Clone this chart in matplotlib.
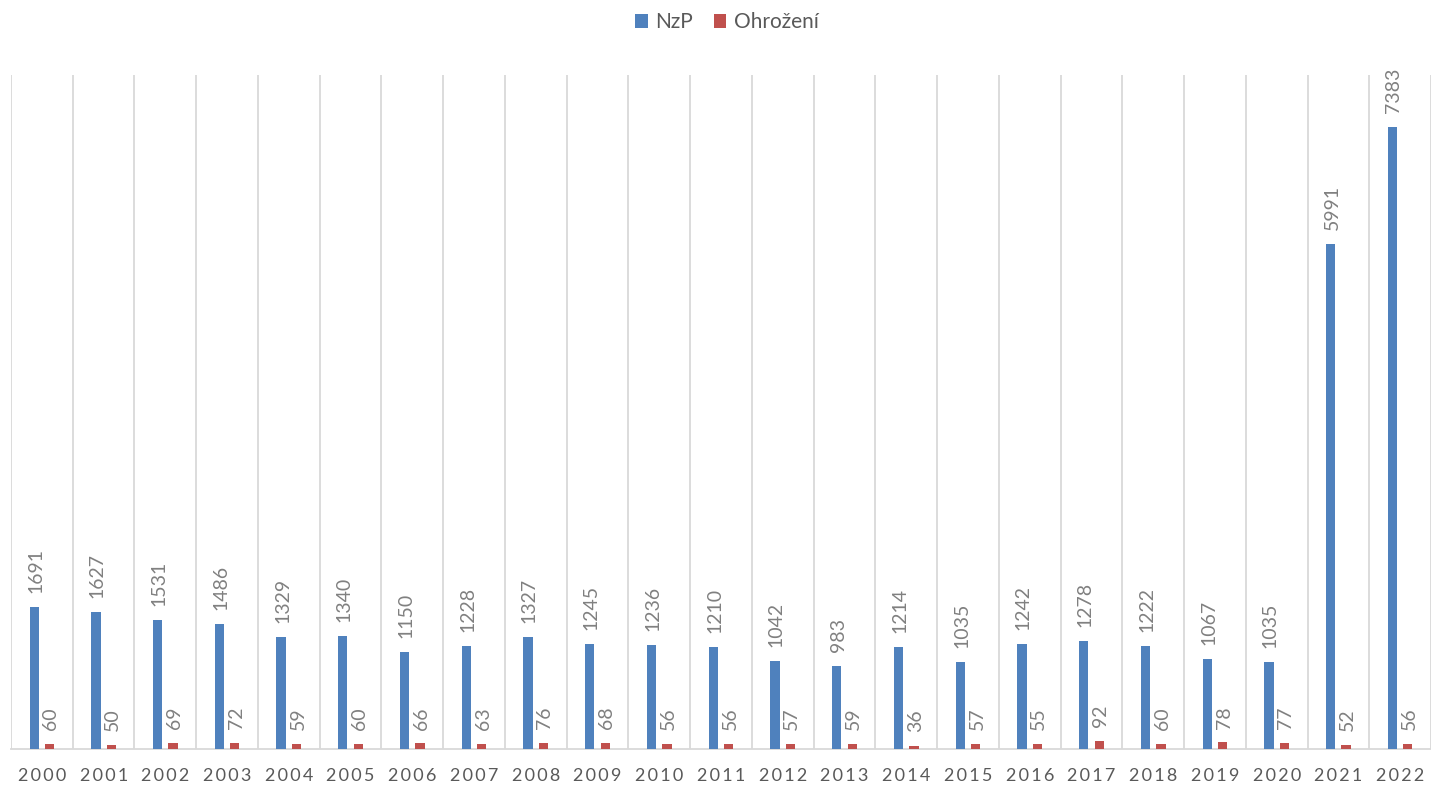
import numpy as np
import matplotlib.pyplot as plt

plt.rcParams['font.family'] = ['Lato', 'DejaVu Sans']

years = [str(y) for y in range(2000, 2023)]
nzp = [1691, 1627, 1531, 1486, 1329, 1340, 1150, 1228, 1327, 1245, 1236, 1210,
       1042, 983, 1214, 1035, 1242, 1278, 1222, 1067, 1035, 5991, 7383]
ohrozeni = [60, 50, 69, 72, 59, 60, 66, 63, 76, 68, 56, 56,
            57, 59, 36, 57, 55, 92, 60, 78, 77, 52, 56]

blue = '#4F81BD'
red = '#C0504D'
grey_txt = '#808080'

fig = plt.figure(figsize=(14.31, 7.87), dpi=100)
ax = fig.add_axes([0.0077, 0.0483, 0.9923, 0.8564])

x = np.arange(len(years))
w = 0.15
b1 = ax.bar(x - 0.125, nzp, w, color=blue, label='NzP', zorder=3)
b2 = ax.bar(x + 0.125, ohrozeni, w, color=red, label='Ohrožení', zorder=3)

for bars, vals in ((b1, nzp), (b2, ohrozeni)):
    for r, v in zip(bars, vals):
        ax.annotate(str(v), (r.get_x() + r.get_width() / 2, r.get_height()),
                    xytext=(1, 10), textcoords='offset points', rotation=90,
                    ha='center', va='bottom', fontsize=14, color=grey_txt)

ax.set_xlim(-0.5, len(years) - 0.5)
ax.set_ylim(0, 8000)
for b in np.arange(-0.5, len(years), 1.0):
    ax.axvline(b, color='#d9d9d9', lw=1.3, zorder=1)

ax.set_yticks([])
ax.set_xticks(x)
ax.set_xticklabels(['\u2009'.join(y) for y in years], fontsize=13, color='#595959')
ax.tick_params(axis='x', length=0, pad=14)
for s in ['top', 'left', 'right']:
    ax.spines[s].set_visible(False)
ax.spines['bottom'].set_color('#d9d9d9')
ax.spines['bottom'].set_linewidth(1.3)

fig.legend(handles=[b1, b2], loc='upper center', bbox_to_anchor=(0.508, 1.008),
           ncol=2, frameon=False, fontsize=15, labelcolor='#595959',
           handlelength=0.6, handleheight=0.6, handletextpad=0.35, columnspacing=1.0)

fig.savefig('out.png', dpi=100)
